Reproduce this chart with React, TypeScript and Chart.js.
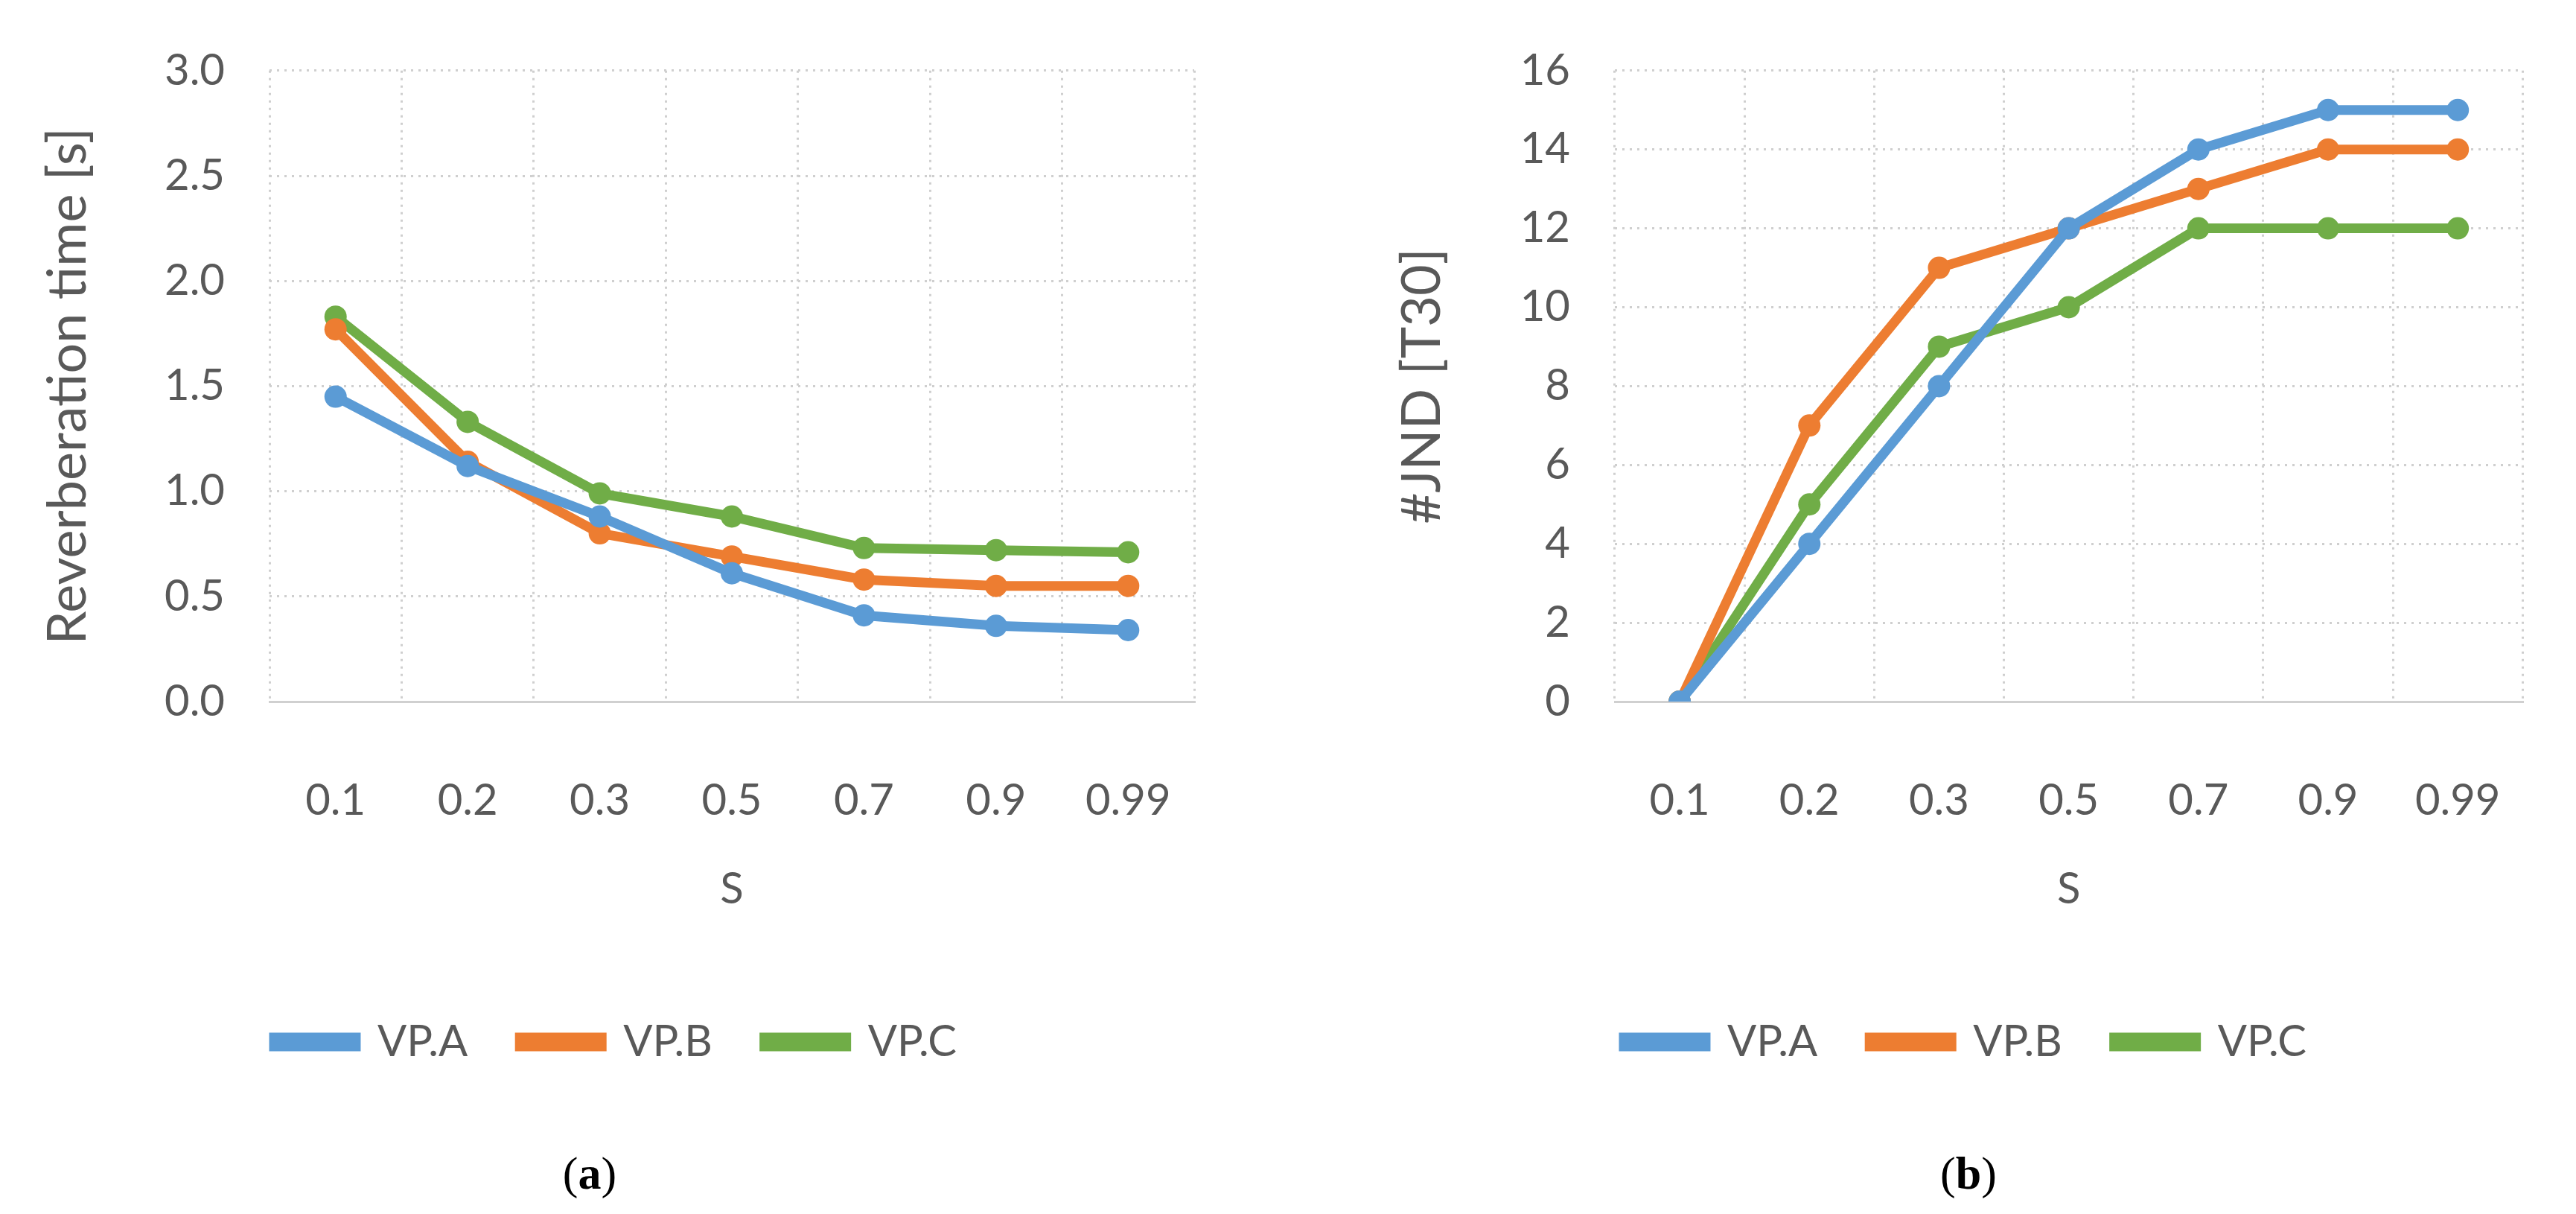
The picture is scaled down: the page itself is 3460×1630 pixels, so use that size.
import React, { useEffect, useRef } from "react";
import { Chart, registerables } from "chart.js";
Chart.register(...registerables);

const categories = ["0.1", "0.2", "0.3", "0.5", "0.7", "0.9", "0.99"];
const seriesNames = ["VP.A", "VP.B", "VP.C"];
const colors = ["#5B9BD5", "#ED7D31", "#70AD47"];
const rtA = [1.45, 1.12, 0.88, 0.61, 0.41, 0.36, 0.34];
const rtB = [1.77, 1.14, 0.8, 0.69, 0.58, 0.55, 0.55];
const rtC = [1.83, 1.33, 0.99, 0.88, 0.73, 0.72, 0.71];
const jndA = [0, 4, 8, 12, 14, 15, 15];
const jndB = [0, 7, 11, 12, 13, 14, 14];
const jndC = [0, 5, 9, 10, 12, 12, 12];

const FONT = "Lato, 'Open Sans', sans-serif";
const TXT = "#595959";

function Panel(props: {
  left: number; data: number[][]; yTitle: string; max: number; step: number;
  dec: number; padLeft: number; yWidth: number; padRight: number;
}) {
  const ref = useRef<HTMLCanvasElement>(null);
  useEffect(() => {
    const chart = new Chart(ref.current!, {
      type: "line",
      data: {
        labels: categories,
        datasets: props.data.map((d, i) => ({
          label: seriesNames[i], data: d, borderColor: colors[i], backgroundColor: colors[i],
          borderWidth: 13, pointRadius: 15, pointBackgroundColor: colors[i], pointBorderWidth: 0,
          tension: 0,
        })),
      },
      options: {
        animation: false, responsive: false,
        layout: { padding: { left: props.padLeft, right: props.padRight, top: 5, bottom: 62 } },
        plugins: {
          tooltip: { enabled: false },
          legend: {
            position: "bottom",
            labels: { font: { family: FONT, size: 58 }, color: TXT, boxWidth: 110, boxHeight: 12, padding: 70 },
          },
        },
        scales: {
          x: {
            offset: true,
            grid: { offset: true, color: "#cfcfcf", lineWidth: 3, drawTicks: false },
            border: { color: "#d0d0d0", width: 3, dash: [3, 7] },
            ticks: { font: { family: FONT, size: 58 }, color: TXT, padding: 98 },
            title: { display: true, text: "S", font: { family: FONT, size: 58 }, color: TXT, padding: { top: 0, bottom: 71 } },
            afterFit: (s: any) => { s.height = 358; },
          },
          y: {
            min: 0, max: props.max,
            grid: { color: "#cfcfcf", lineWidth: 3, drawTicks: false },
            border: { display: false, dash: [3, 7] },
            ticks: {
              stepSize: props.step, font: { family: FONT, size: 58 }, color: TXT, padding: 60,
              callback: (v: any) => Number(v).toFixed(props.dec),
            },
            title: { display: true, text: props.yTitle, font: { family: FONT, size: 72 }, color: TXT, padding: 0 },
            afterFit: (s: any) => { s.width = props.yWidth; },
          },
        },
      },
    } as any);
    return () => chart.destroy();
  }, []);
  return <canvas ref={ref} width={1730} height={1500}
    style={{ position: "absolute", left: props.left, top: 0, width: 1730, height: 1500 }} />;
}

export default function App() {
  useEffect(() => { document.body.style.margin = "0"; }, []);
  const cap = { position: "absolute" as const, top: 1540, fontFamily: "'Liberation Serif', serif", fontSize: 62, color: "#000", width: 300, textAlign: "center" as const };
  return (
    <div style={{ position: "relative", width: 3460, height: 1630, background: "#fff", overflow: "hidden" }}>
      <Panel left={0} data={[rtA, rtB, rtC]} yTitle="Reverberation time [s]" max={3} step={0.5} dec={1} padLeft={49} yWidth={313} padRight={126} />
      <Panel left={1730} data={[jndA, jndB, jndC]} yTitle="#JND [T30]" max={16} step={2} dec={0} padLeft={138} yWidth={301} padRight={49} />
      <div style={{ ...cap, left: 792 - 150 }}>(<b>a</b>)</div>
      <div style={{ ...cap, left: 2644 - 150 }}>(<b>b</b>)</div>
    </div>
  );
}
